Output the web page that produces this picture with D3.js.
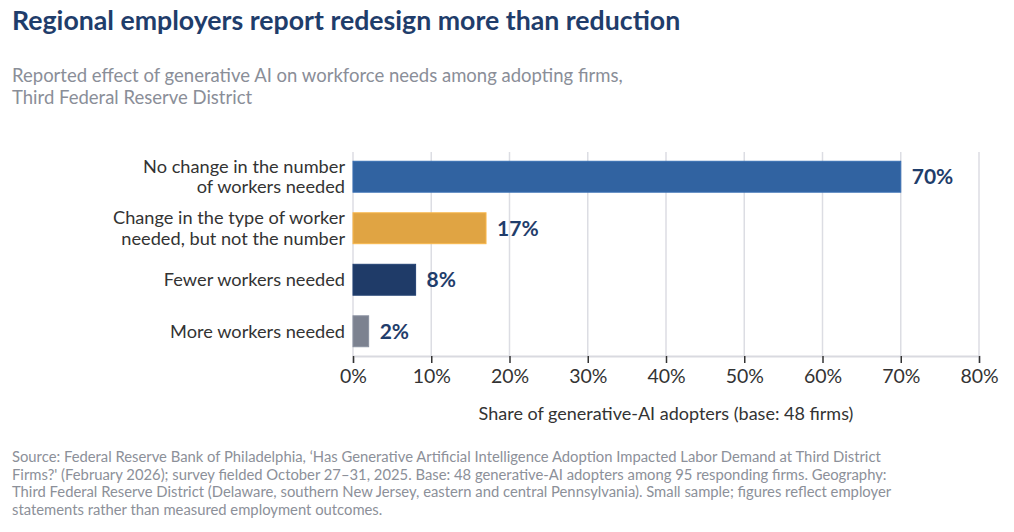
<!DOCTYPE html>
<html>
<head>
<meta charset="utf-8">
<script src="https://cdn.jsdelivr.net/npm/d3@7"></script>
<style>
  body { margin: 0; background: #fff; }
  svg { font-family: Lato, "Open Sans", sans-serif; display: block; }
</style>
</head>
<body>
<svg id="chart" width="1014" height="532"></svg>
<script>
// chart data
var categories = [
  ["No change in the number", "of workers needed"],
  ["Change in the type of worker", "needed, but not the number"],
  ["Fewer workers needed"],
  ["More workers needed"]
]
var shares = [70, 17, 8, 2]
var barColors = ["#3163a1", "#e0a443", "#1f3b68", "#7c8290"]
var xTicks = [0, 10, 20, 30, 40, 50, 60, 70, 80]

var titleText = "Regional employers report redesign more than reduction"
var subtitleLines = [
  "Reported effect of generative AI on workforce needs among adopting firms,",
  "Third Federal Reserve District"
]
var axisTitle = "Share of generative-AI adopters (base: 48 firms)"
var sourceLines = [
  "Source: Federal Reserve Bank of Philadelphia, \u2018Has Generative Artificial Intelligence Adoption Impacted Labor Demand at Third District",
  "Firms?' (February 2026); survey fielded October 27\u201331, 2025. Base: 48 generative-AI adopters among 95 responding firms. Geography:",
  "Third Federal Reserve District (Delaware, southern New Jersey, eastern and central Pennsylvania). Small sample; figures reflect employer",
  "statements rather than measured employment outcomes."
]

var navy = "#1f3d6b"
var svg = d3.select("#chart")

// title block
svg.append("text")
  .attr("x", 12).attr("y", 30)
  .attr("fill", navy)
  .style("font-size", "26.7px").style("font-weight", "bold")
  .text(titleText)

svg.selectAll("text.sub").data(subtitleLines).enter().append("text")
  .attr("class", "sub")
  .attr("x", 12).attr("y", function(d, i) { return 82 + i * 22 })
  .attr("fill", "#8a8e98")
  .style("font-size", "18.5px")
  .text(function(d) { return d })

// plot area
var plotL = 353, plotR = 979, plotT = 152, plotB = 356

var x = d3.scaleLinear().domain([0, 80]).range([plotL, plotR])
var y = d3.scaleBand().domain(d3.range(shares.length))
  .range([plotT, plotB]).paddingInner(0.4).paddingOuter(0.18)

// gridlines
svg.append("g").selectAll("line").data(xTicks).enter().append("line")
  .attr("x1", function(d) { return x(d) }).attr("x2", function(d) { return x(d) })
  .attr("y1", plotT).attr("y2", plotB)
  .attr("stroke", "#dcdde3").attr("stroke-width", 1.5)

// bars
svg.append("g").selectAll("rect").data(shares).enter().append("rect")
  .attr("x", x(0))
  .attr("y", function(d, i) { return y(i) })
  .attr("width", function(d) { return x(d) - x(0) })
  .attr("height", y.bandwidth())
  .attr("fill", function(d, i) { return barColors[i] })
  .attr("stroke", function(d, i) { return d3.color(barColors[i]).brighter(0.3) })
  .attr("stroke-width", 1)

// value labels
svg.append("g").selectAll("text").data(shares).enter().append("text")
  .attr("x", function(d) { return x(d) + 11 })
  .attr("y", function(d, i) { return y(i) + y.bandwidth() / 2 })
  .attr("dy", "0.36em")
  .attr("fill", navy)
  .style("font-size", "21px").style("font-weight", "bold")
  .text(function(d) { return d + "%" })

// category labels
var catG = svg.append("g").selectAll("text").data(categories).enter().append("text")
  .attr("text-anchor", "end")
  .attr("fill", "#333")
  .style("font-size", "18.2px")
  .attr("transform", function(d, i) { return "translate(345," + (y(i) + y.bandwidth() / 2) + ")" })
catG.selectAll("tspan").data(function(d) { return d }).enter().append("tspan")
  .attr("x", 0)
  .attr("y", function(d, i, nodes) { return (i - (nodes.length - 1) / 2) * 20.5 })
  .attr("dy", "0.35em")
  .text(function(d) { return d })

// x axis
var xAxis = svg.append("g")
  .attr("transform", "translate(0," + plotB + ")")
  .call(d3.axisBottom(x).tickValues(xTicks).tickSize(7).tickPadding(6)
    .tickFormat(function(d) { return d + "%" }))
xAxis.select(".domain").attr("stroke", "#d9dae0").attr("stroke-width", 2)
xAxis.selectAll(".tick line").attr("stroke", "#333").attr("stroke-width", 1.5)
xAxis.selectAll(".tick text")
  .attr("fill", "#333")
  .style("font-size", "19.5px")
  .style("font-family", "Lato, sans-serif")

svg.append("text")
  .attr("x", (plotL + plotR) / 2).attr("y", 420)
  .attr("text-anchor", "middle")
  .attr("fill", "#333")
  .style("font-size", "18px")
  .text(axisTitle)

// source note
svg.selectAll("text.src").data(sourceLines).enter().append("text")
  .attr("class", "src")
  .attr("x", 12).attr("y", function(d, i) { return 462 + i * 17.5 })
  .attr("fill", "#8c9099")
  .style("font-size", "14.8px")
  .text(function(d) { return d })
</script>
</body>
</html>
